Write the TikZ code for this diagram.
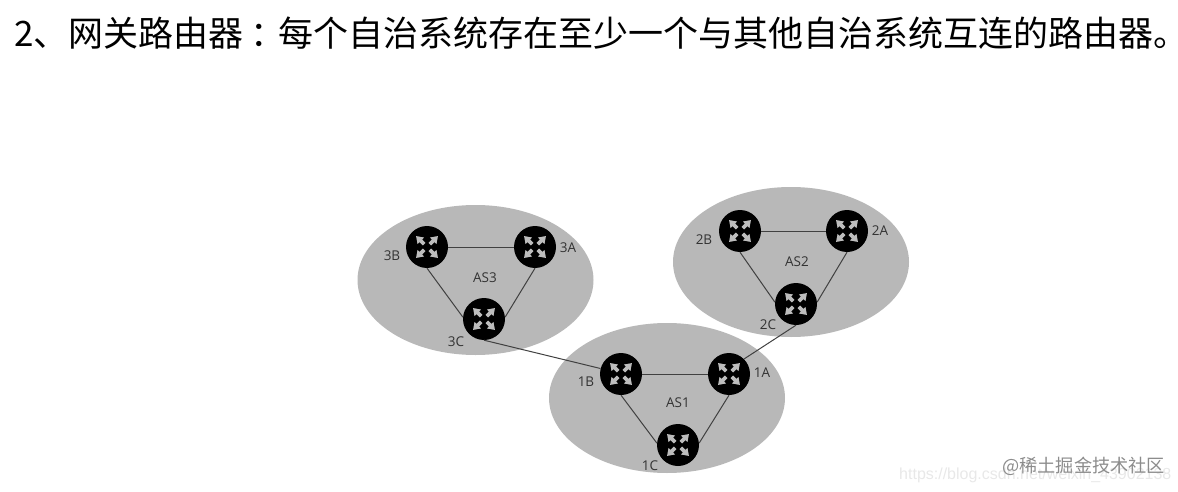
\documentclass[tikz,border=0pt]{standalone}
\usepackage{fontspec}
\usetikzlibrary{shapes.geometric}
\setmainfont{Noto Sans CJK SC}
\newfontfamily\labelfont{Open Sans}
\newfontfamily\urlfont{Liberation Sans}
\definecolor{ascolor}{gray}{0.72}
\definecolor{iconcolor}{gray}{0.74}
\definecolor{linkcolor}{gray}{0.25}
\tikzset{
  x=1pt,y=-1pt,
  asblob/.style={ellipse,fill=ascolor,minimum width=236pt,minimum height=150pt,inner sep=0pt},
  router/.style={circle,fill=black,minimum size=42pt,inner sep=0pt},
  link/.style={draw=linkcolor,line width=1pt},
  lab/.style={font=\labelfont\fontsize{13.5}{13.5}\selectfont,text=black!80,inner sep=0pt},
  icon/.pic={
    \foreach \r in {45,135,225,315}{
      \fill[iconcolor,rotate=\r] (4,-1.8) -- (8.8,-1.8) -- (8.8,-4.6) -- (15.5,0) -- (8.8,4.6) -- (8.8,1.8) -- (4,1.8) -- cycle;
    }
  }
}
\begin{document}
\begin{tikzpicture}
\useasboundingbox (0,0) rectangle (1178,492);
\node[anchor=west,inner sep=0pt,font=\fontsize{35}{35}\selectfont] (title) at (14,33) {2、网关路由器\kern 7pt：\kern -7pt 每个自治系统存在至少一个与其他自治系统互连的路由器。\kern -16pt};
\node[asblob] (as3) at (475.5,280) {};
\node[asblob] (as2) at (791,262) {};
\node[asblob] (as1) at (667,398) {};
\node[router] (r3b) at (427,247) {};
\node[router] (r3a) at (535,247) {};
\node[router] (r3c) at (484,319) {};
\node[router] (r2b) at (740,231) {};
\node[router] (r2a) at (847,231) {};
\node[router] (r2c) at (796,304) {};
\node[router] (r1b) at (621,374) {};
\node[router] (r1a) at (729,374) {};
\node[router] (r1c) at (678,445) {};
\draw[link] (r3b) -- (r3a);
\draw[link] (r3b.south) -- (r3c.175);
\draw[link] (r3a.south) -- (r3c.5);
\draw[link] (r2b) -- (r2a);
\draw[link] (r2b.south) -- (r2c.175);
\draw[link] (r2a.south) -- (r2c.5);
\draw[link] (r1b) -- (r1a);
\draw[link] (r1b.south) -- (r1c.175);
\draw[link] (r1a.south) -- (r1c.5);
\draw[link] (r3c.south) -- (r1b.165);
\draw[link] (r2c.south) -- (r1a.45);
\foreach \p in {r3b,r3a,r3c,r2b,r2a,r2c,r1b,r1a,r1c}{
  \pic at (\p) {icon};
}
\node[lab] (l3b) at (392,256) {3B};
\node[lab] (l3a) at (568,248) {3A};
\node[lab] (l3c) at (456,342) {3C};
\node[lab] (las3) at (485,278) {AS3};
\node[lab] (l2b) at (704,240) {2B};
\node[lab] (l2a) at (880,231) {2A};
\node[lab] (l2c) at (768,325) {2C};
\node[lab] (las2) at (797,262) {AS2};
\node[lab] (l1b) at (586,382) {1B};
\node[lab] (l1a) at (762,373) {1A};
\node[lab] (l1c) at (650,466) {1C};
\node[lab] (las1) at (678,403) {AS1};
\node[anchor=west,inner sep=0pt,font=\urlfont\fontsize{16}{16}\selectfont,text=black!9] (url) at (899,475) {https://blog.csdn.net/weixin\_43902138};
\node[anchor=west,inner sep=0pt,font=\fontsize{18.2}{18.2}\selectfont,text=black!45] (wm) at (1002,466) {@稀土掘金技术社区};
\end{tikzpicture}
\end{document}
